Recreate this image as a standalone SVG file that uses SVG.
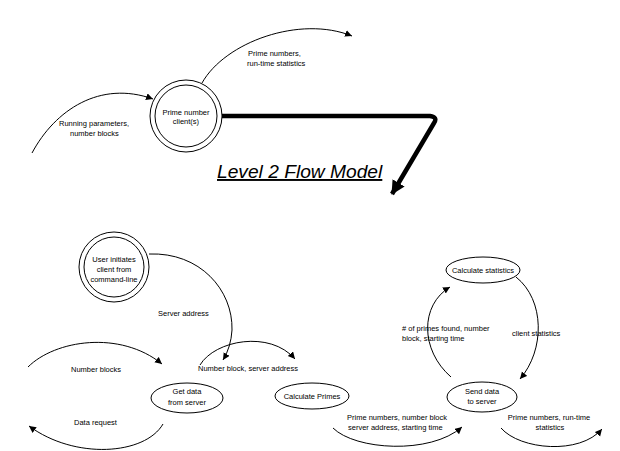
<svg xmlns="http://www.w3.org/2000/svg" width="620" height="451" viewBox="0 0 620 451">
<defs>
<style>
.t{font-family:"Liberation Sans",Arial,sans-serif;font-size:7.5px;fill:#000}
.c{text-anchor:middle}
.n{fill:none;stroke:#000;stroke-width:1}
.f{fill:none;stroke:#000;stroke-width:1;marker-end:url(#ah)}
</style>
<marker id="ah" markerUnits="userSpaceOnUse" markerWidth="10" markerHeight="10" refX="7" refY="3.5" orient="auto">
<path d="M0,0 L7,3.5 L0,7 Z" fill="#000"/>
</marker>
<marker id="big" markerUnits="userSpaceOnUse" markerWidth="16" markerHeight="16" refX="13" refY="7" orient="auto">
<path d="M0,0 L14,7 L0,14 Z" fill="#000"/>
</marker>
</defs>
<rect width="620" height="451" fill="#fff"/>

<g id="connectors">
<path class="f" d="M202,83 C225,42 300,15 352,36"/>
<path class="f" d="M32,153 C55,110 100,80 153,99"/>
<path d="M222,116 L430,116 Q438,117 434,123 L392,194" fill="none" stroke="#000" stroke-width="4.5" marker-end="url(#big)"/>
<path class="f" d="M149,254 C200,252 233,290 232,330 Q231,347 223,360"/>
<path class="f" d="M28,367 C55,340 120,330 162,364"/>
<path class="f" d="M163,424 C145,455 75,460 29,426"/>
<path class="f" d="M200,365 C215,340 270,330 295,359"/>
<path class="f" d="M451,377 C420,350 420,305 450,287"/>
<path class="f" d="M516,277 C545,300 545,350 520,379"/>
<path class="f" d="M333,428 C355,450 430,455 462,427"/>
<path class="f" d="M501,428 C520,450 580,455 602,429"/>
</g>

<g id="labels">
<text class="t" x="248" y="56">Prime numbers,</text>
<text class="t" x="247" y="66">run-time statistics</text>
<text class="t" x="59" y="126">Running parameters,</text>
<text class="t" x="70" y="136">number blocks</text>
<text x="217" y="178" font-family="'Liberation Sans',Arial,sans-serif" font-size="19.2" font-style="italic" text-decoration="underline">Level 2 Flow Model</text>
<text class="t" x="158" y="316">Server address</text>
<text class="t" x="71" y="372">Number blocks</text>
<text class="t" x="198" y="371">Number block, server address</text>
<text class="t" x="74" y="425">Data request</text>
<text class="t" x="402" y="331"># of primes found, number</text>
<text class="t" x="402" y="341">block, starting time</text>
<text class="t" x="512" y="336">client statistics</text>
<text class="t" x="347" y="420">Prime numbers, number block</text>
<text class="t" x="348" y="430">server address, starting time</text>
<text class="t c" x="549" y="420">Prime numbers, run-time</text>
<text class="t c" x="550" y="430">statistics</text>
</g>

<g id="prime-client">
<circle class="n" cx="186" cy="116" r="36"/>
<circle class="n" cx="186" cy="116" r="31"/>
<text class="t c" x="186" y="115">Prime number</text>
<text class="t c" x="186" y="124">client(s)</text>
</g>

<g id="user-initiates">
<circle class="n" cx="114" cy="267" r="35"/>
<circle class="n" cx="114" cy="267" r="30"/>
<text class="t c" x="114" y="262">User initiates</text>
<text class="t c" x="114" y="272">client from</text>
<text class="t c" x="114" y="282">command-line</text>
</g>

<g id="get-data">
<ellipse class="n" cx="187" cy="398" rx="36" ry="15"/>
<text class="t c" x="187" y="394">Get data</text>
<text class="t c" x="187" y="405">from server</text>
</g>

<g id="calc-primes">
<ellipse class="n" cx="312" cy="396" rx="37" ry="13"/>
<text class="t c" x="312" y="399">Calculate Primes</text>
</g>

<g id="calc-stats">
<ellipse class="n" cx="483" cy="270" rx="37" ry="13"/>
<text class="t c" x="483" y="273">Calculate statistics</text>
</g>

<g id="send-data">
<ellipse class="n" cx="482" cy="397" rx="35" ry="15"/>
<text class="t c" x="482" y="394">Send data</text>
<text class="t c" x="482" y="404">to server</text>
</g>
</svg>
